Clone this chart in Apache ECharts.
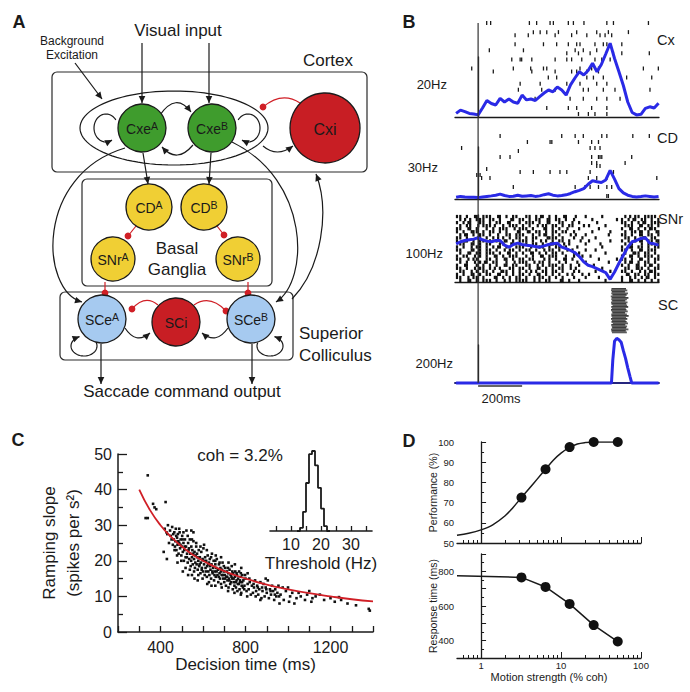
<!DOCTYPE html>
<html>
<head>
<meta charset="utf-8">
<title>Decision network figure</title>
<script src="https://cdn.jsdelivr.net/npm/echarts@6/dist/echarts.min.js"></script>
<style>
html,body{margin:0;padding:0;background:#fff;}
#chart{width:690px;height:692px;}
</style>
</head>
<body>
<div id="chart"></div>
<script>
// ======================= DATA =======================
// ---- Panel A: network diagram (diagram units) ----
const nodeLabels = ['Cxe','Cxe','Cxi','CD','CD','SNr','SNr','SCe','SCi','SCe'];
const nodeSups   = ['A','B','','A','B','A','B','A','','B'];
const nodeX = [142,212,325,149,204,113,238,102,176,251];
const nodeY = [128,128,128,207,207,259,259,319,322,319];
const nodeR = [24,24,35,23,23,22,22,24,24,24];
const nodeKind = ['cx','cx','inh','bg','bg','bg','bg','sc','inh','sc'];
const regionBoxes = [[52,72,367,172],[82,179,272,286],[60,292,293,360]];
const cortexPool = [174,128,94,37];
// excitatory projections: start, (control points), end
const excEdges = [
  [142,43, 142,103],
  [209,43, 209,103],
  [75,63, 102,99],
  [160,115, 176,92, 191,112],
  [193,145, 177,164, 162,147],
  [263,146, 277,158, 293,146],
  [143,153, 148,184],
  [211,153, 209,184],
  [125,328, 136,345, 150,333],
  [228,328, 216,345, 202,333],
  [125,148, 35,175, 40,290, 82,302],
  [232,142, 310,180, 310,280, 276,302],
  [292,299, 322,268, 330,210, 316,174],
  [101,344, 101,384],
  [252,344, 252,384]
];
// inhibitory projections
const inhEdges = [
  [300,103, 282,91, 263,107],
  [136,226, 128,236],
  [217,226, 224,235],
  [105,282, 105,293],
  [248,282, 248,293],
  [158,305, 145,294, 132,309],
  [194,305, 210,294, 226,311]
];
// recurrent self loops: cx, cy, rx, ry, startDeg, endDeg
const selfLoops = [
  [106,128,12,14,-35,-300],
  [248,128,12,14,215,480],
  [84,346,13,10,-20,250],
  [270,346,13,10,200,-70]
];

// ---- Panel B: rasters and PSTHs (time in ms) ----
const stimOnset = 0;
const scaleBarMs = 200;
const psthTimes = [-100,-80,-60,-40,-20,0,20,40,60,80,100,120,140,160,180,200,220,240,260,280,300,320,340,360,380,400,420,440,460,480,500,520,540,560,580,600,620,640,660,680,700,720,740,760,780,800,820];
const cxRate  = [1.2,2.3,1.8,1.2,1.0,0.7,3.0,5.5,4.5,4.0,6.2,5.0,6.0,5.0,4.6,7.3,5.7,6.0,5.5,6.8,8.0,9.0,8.4,10.0,9.0,7.3,10.7,13.0,15.1,14.0,15.5,17.9,15.1,17.5,21.0,24.6,19.5,15.1,10.5,5.0,1.5,0.7,0.9,2.9,3.4,3.0,4.6];
const cdRate  = [1.0,1.5,1.2,1.0,1.0,0.8,1.2,1.5,1.8,2.2,2.8,2.0,1.5,1.6,2.2,1.6,1.8,2.0,1.5,1.8,2.5,3.0,2.2,1.8,2.0,2.4,3.2,4.2,5.0,6.0,8.5,10.5,10.0,9.5,11.0,16.5,11.5,6.0,3.5,2.2,1.5,1.2,1.4,1.8,1.5,1.2,1.5];
const snrRate = [57,60,62,63,64,66,63,61,60,62,62,55,52,56,58,56,55,54,53,52,54,56,57,58,52,50,47,44,38,30,25,23,20,17,14,4,15,28,40,52,60,62,65,66,58,57,55];
const scTimes = [-100,600,606,612,620,630,640,650,660,670,680,690,698,820];
const scRate  = [0,0,0,120,220,235,228,215,170,130,80,35,0,0];
// sparse rasters: [trial, spike times]
const cxRaster = [
  [1,[39,57,233,266,327,342,410,433,481,585,615,774]],
  [4,[251,282,312,365,448,539,592,683]],
  [5,[168,228,350,425,494,554,577,607]],
  [8,[168,297,357,410,448,463,531,569,585,653]],
  [10,[51,206,441,478,539]],
  [11,[403,456,509,615,653,778]],
  [13,[153,191,198,244,350,403,425,471,531,562,600]],
  [16,[-29,160,239,297,312,463,516,547,751,819]],
  [17,[69,244,350,425,448,494,547]],
  [19,[319,357,494,524,569,675,789]],
  [21,[191,282,403,463,539,585]],
  [23,[183,289,350,478,501,569,622,781]],
  [26,[259,418,478,539,585,645]],
  [29,[312,410,448,516,585]],
  [31,[456,501,531,585]]
];
const cdRaster = [
  [1,[100,380,441,478,562,585,703,778]],
  [3,[224,327,335,456,516,547]],
  [5,[-75,509,531,554]],
  [6,[183]],
  [8,[100,145,516,547,554,562,698]],
  [10,[516,539,668]],
  [11,[539,554]],
  [12,[39]],
  [13,[191,251,327,372,403,509,615]],
  [14,[-6,9]],
  [15,[16,54,501,539,585,812]],
  [18,[160,441,486,509,547,585,607]],
  [21,[585,592]]
];
// dense SNr raster: one string per trial, 15 ms bins from -100 ms; '|' early spike, ':' late spike
const snrBinStart = -100, snrBinMs = 15;
const snrRows = [
  "||.|.:|.|| |.:|.|.||. .||.|:|.|. |.:|..|..| ....|..... .|:.||.||| |.",
  ".|:.|.|||. ||.|..:|.| |.|.||.:|. ||.|.:.... .|......:. |.|:|.||.| .|",
  "|.|:|..||. |.||.:|..| .|||.|.:|. .||..|.|.. ..:....... ||.|.|:|.| ||",
  ".|.||.:.|| |:..|.|||. |.|.:.||.| |.|.||..:. |....|.... .|||.:|.|| .|",
  "||.:|.|..| .|.|||.:.| ||.|..:|.| .|.:...|.. ...|...... |.:|.|.|:| |.",
  "|.|.:||.|. ||.|.|..:| .:|.||.|.| |.||.:.... .|....:... .|.||:|.|. :|",
  ".|:|.|.||. |.:..||.|| |..|.|:|.| .|..:.|..| ......|... ||.|.:|.|| .|",
  "||.|..:|.| .|:.|.|.|| .|.||..:|| |.|..:..|. ..|....... .||.|.:|.| |.",
  "|.:|.|.||. |.|.:|.|.| ||.|.:.|.| .||.|..:.. |.....:... |.|.|:|.|| :|",
  ".||.:|.|.| |..||.:|.| .|.||.|.:| |.:.|....| ...:...... .|:|..|.|| .|",
  "|.|.:.||.| .|:|.|..|| |.:..||.|. ||.|..:... ....|..... |.:|.||.|. ||",
  "||..:|.|.| |.|.:.||.| .||.|.:.|| .|.:.|...| ..|....... ||.|.:|.|| |.",
  ".|.:|.||.| ||.|.:|.|. |.:|.|.|.| |.|..:.|.. .....|.... .|.:||.||. |.",
  "|.||.:.|.| .:|.|.|||. .|.|.:|.|| |..|.:..|. :......... |.:|.|.||| .|",
  "||.:.||..| |.|.:|.|.| |.||..:.|. |.:|.|.... ...|....:. ||.|.:|.|. ||",
  ".|.|.:.|:| .||..|.:.| ||.:.||.|. .|.|..:..| ......|... .|:|.|.||. |.",
  "|.:|..|.|. |.|.:|.||. .||.:.|.|| |.|.:..|.. .:........ |.|.:|.|:| .|",
  "||.|.:.||. |:.|..||.| |.|.:|.|.| .||.:.|... ....|..... .||.:||.|. ||",
  ".||.:.|.|| .|.:||.|.| .|:.|.||.| |.|..:.|.. ..|...:... ||.|.:.|:| |.",
  "|.|.:|.|.| |.:|.|.|.| |.|.:|.|.| .|.:.|..|. |......... .:|.||.||. ||",
  "||.:.||.|. .:|.|.|.|| .|.:.||.|. |.|..:...| ...|...... |.:.|.|:|. |.",
  ".|.:|.|.|| |.|.:.|.|| ||.:.|.||. .:|.|..|.. .....|.... |.:|.|.|.| .|"
];
// SC burst raster: burst onset / offset per trial (ms)
const scOn  = [606,604,608,605,610,603,607,605,609,604,606,611,605,608,604,607,610,605,606,609,604,608,606,612,605,607,609,604,606,608];
const scOff = [672,678,668,681,675,670,683,676,669,679,673,677,682,671,674,680,668,676,684,672,678,670,675,681,669,677,673,683,671,676];

// ---- Panel C: ramping slope vs decision time ----
const decisionRampPoints = [
 [330,32],[340,32],[340,44],[365,36],[372,35],[380,34.5],[424,36.5],[420,29],[428,28],[432,27.5],[435,30],[440,25],[445,28.5],[448,27],[452,26],[455,29.5],[458,24.5],[460,27.5],[415,22.5],[430,20.5],
 [462,26],[465,28],[468,24],[470,25.5],[472,29],[475,23],[478,26.5],[480,24.5],[482,27.5],[485,22],[488,25],[490,28],[492,23.5],[495,26],[498,21.5],[500,24],[502,27],[505,22.5],[508,25],[510,20],[512,23],[515,26],[518,21],[520,24],[522,28.5],[525,22],[528,19.5],[530,25],[532,23],[535,20.5],[538,26],[540,22],[542,18.5],[545,24],[548,21],[550,23],[552,19],[555,25.5],[558,20.5],[560,22.5],[545,28.5],[555,28],[530,16],[548,16],[560,15],[505,17],[480,19.5],
 [562,18],[565,21.5],[568,24],[570,19],[572,22],[575,17.5],[578,20],[580,23],[582,18.5],[585,21],[588,16.5],[590,19.5],[592,22.5],[595,18],[598,20.5],[600,17],[602,23.5],[605,19],[608,16],[610,21],[612,18],[615,20],[618,15.5],[620,18.5],[622,21.5],[625,17],[628,19.5],[630,16],[632,20.5],[635,17.5],[638,15],[640,19],[642,22],[645,16.5],[648,18],[650,20],[652,14.5],[655,17],[658,19],[660,15.5],[662,18],[665,20.5],[668,16],[670,17.5],[672,14],[675,19],[678,16.5],[680,15],[682,18],[685,13.5],[688,16],[690,17.5],[692,19.5],[695,15],[698,17],[700,14],[605,24.5],[620,13.5],[640,13],[575,14.5],[660,21.5],[685,21],
 [702,16],[705,18],[708,13],[710,15.5],[712,17],[715,14.5],[718,16.5],[720,12.5],[722,15],[725,17.5],[728,13.5],[730,16],[732,14],[735,18.5],[738,15],[740,12],[742,16.5],[745,14],[748,13],[750,15.5],[752,17],[755,12.5],[758,14.5],[760,16],[762,11.5],[765,15],[768,13.5],[770,17],[772,12],[775,14],[778,15.5],[780,11],[782,13],[785,16],[788,12.5],[790,14.5],[795,13],[800,15],[805,11.5],[810,13.5],[815,12],[820,14],[825,10.5],[830,13],[835,11],[840,12.5],[845,14.5],[850,11.5],[780,18],[750,19],[720,19.5],[810,16.5],
 [855,13],[860,10.5],[865,12],[870,14],[875,9.5],[880,11.5],[885,13.5],[890,10],[895,12.5],[900,11],[905,14.5],[910,9.5],[915,12],[920,10.5],[925,13],[930,11.5],[935,9],[940,12],[945,10],[950,11],[955,13],[960,8],[965,10.5],[975,12.5],[980,9],[990,11.5],[1000,12.5],[1005,8.5],[895,15],[870,9],
 [1010,10],[1020,11],[1030,8],[1040,9.5],[1050,11],[1060,10],[1080,9],[1090,10.5],[1100,11.5],[1115,9.5],[1130,10],[1150,10.5],[1170,9],[1200,9.5],[1220,8.5],[1250,9],[1280,8],[1320,7.5],[1380,6.5],[1385,6],[1240,9.8],[1110,8.5],
 [466,23],[474,27],[484,25.5],[494,24.5],[504,26],[514,24],[524,21],[534,23.5],[544,20],[554,22],[564,19.5],[574,21],[584,19],[594,17.5],[604,20],[614,17],[624,19],[634,18.5],[644,17],[654,16],[664,17],[674,15.5],[684,17],[694,16],[704,15],[714,15.5],[724,14.5],[734,15.5],[744,15],[754,14],[764,13.5],[774,14.5],[784,14],[794,12],
 [488,29],[508,28],[528,27],[548,26],[568,25],[588,24],[618,23],[638,21],[658,20],[678,19.5],[698,18.5],[718,18],[738,17],[758,16.5],[778,16.5],[798,16],[818,15],[838,13.5],[858,12.5],[878,12.5],[898,12],[918,11.5],[938,10.5],[958,10],
 [478,21.5],[498,20],[518,18],[538,17.5],[558,17],[578,16],[598,15],[628,14],[658,13],[688,12.5],[718,11.5],[748,11],[778,10.5],[808,10],[848,10]
];
const fitTime  = [300,350,400,450,500,550,600,700,800,900,1000,1100,1200,1300,1400];
const fitSlope = [40,34.3,30,26.7,24,21.8,20,17.1,15,13.3,12,10.9,10,9.2,8.6];
const histEdges  = [12,13,14,15,16,17,18,19,20,21,22,23];
const histCounts = [0,2,12,30,48,50,41,27,14,3,0,0];

// ---- Panel D: performance and response time vs motion strength ----
const cohLevels = [3.2,6.4,12.8,25.6,51.2];
const perfPct   = [72.5,86.5,97.5,100,100];
const rtMs      = [765,710,612,490,395];
const perfFitCoh = [0.5,0.7,1,1.4,2,2.5,3.2,4,5,6.4,8,10,12.8,16,20,25.6,51.2];
const perfFitPct = [53.8,54.8,56.5,59,63.5,67.5,72.5,77,81.5,86.5,91,94.5,97.3,99,99.7,100,100];
const rtLead = [0.5,775];
const cohMajorTicks = [1,10,100];
const cohMinorTicks = [0.6,0.7,0.8,0.9,2,3,4,5,6,7,8,9,20,30,40,50,60,70,80,90];

// ======================= STYLE / BUILD =======================
const FONT = "'Liberation Sans', Arial, Helvetica, sans-serif";
const INK = '#1a1a1a';
const BLUE = '#2a2ae6';
const RED = '#d01f26';
const kindColor = {cx:'#3f9c2d', inh:'#c81e24', bg:'#f0cf34', sc:'#a6caf0'};
const tMin = -105, tMax = 822;
const lg = Math.log10;

function arrowHead(tx, ty, fx, fy, color) {
  let dx = tx - fx, dy = ty - fy; const len = Math.hypot(dx, dy) || 1; dx /= len; dy /= len;
  const L = 7, H = 3.3; const bx = tx - dx * L, by = ty - dy * L;
  return {type:'polygon', shape:{points:[[tx,ty],[bx - dy*H, by + dx*H],[bx + dy*H, by - dx*H]]}, style:{fill:color}};
}
function edgeEl(e, api, color, inhib) {
  const p = [];
  for (let i = 0; i < e.length; i += 2) p.push(api.coord([e[i], e[i+1]]));
  const a = p[0], b = p[p.length-1], c = p[p.length-2];
  let el;
  if (p.length === 2) el = {type:'line', shape:{x1:a[0],y1:a[1],x2:b[0],y2:b[1]}};
  else if (p.length === 3) el = {type:'bezierCurve', shape:{x1:a[0],y1:a[1],cpx1:p[1][0],cpy1:p[1][1],x2:b[0],y2:b[1]}};
  else el = {type:'bezierCurve', shape:{x1:a[0],y1:a[1],cpx1:p[1][0],cpy1:p[1][1],cpx2:p[2][0],cpy2:p[2][1],x2:b[0],y2:b[1]}};
  el.style = {stroke:color, lineWidth:1.2, fill:'none'};
  const head = inhib ? {type:'circle', shape:{cx:b[0], cy:b[1], r:3.4}, style:{fill:color}} : arrowHead(b[0], b[1], c[0], c[1], color);
  return {type:'group', children:[el, head]};
}

const rasterFlat = rows => { const out = []; rows.forEach(([tr, ts]) => ts.forEach(t => out.push([t, tr]))); return out; };
const snrFlat = (() => { const out = []; snrRows.forEach((s, tr) => { s.replace(/ /g,'').split('').forEach((ch, k) => {
  if (ch === '|') out.push([snrBinStart + k*snrBinMs + 4, tr + 0.5]);
  else if (ch === ':') out.push([snrBinStart + k*snrBinMs + 11, tr + 0.5]); }); }); return out; })();

const G = (left, top, width, height) => ({left, top, width, height, outerBoundsMode:'none', containLabel:false});
const grid = [
  G(0,0,440,420),      // 0 diagram
  G(455,20,204,97),    // 1 Cx raster
  G(455,57,204,60),    // 2 Cx psth
  G(455,133,204,66),   // 3 CD raster
  G(455,147,204,52),   // 4 CD psth
  G(455,215,204,67),   // 5 SNr raster
  G(455,215,204,67),   // 6 SNr psth
  G(455,288,204,45),   // 7 SC raster
  G(455,345,204,38),   // 8 SC psth
  G(455,23,204,360),   // 9 onset line
  G(455,376,204,20),   // 10 scale bar
  G(118,454,255,178),  // 11 C main
  G(270,451,102,80),   // 12 C inset
  G(457,442,184,101),  // 13 D performance
  G(457,554,184,104)   // 14 D RT
];
const hidden = (gi, min, max, inverse) => ({gridIndex:gi, type:'value', min, max, inverse:!!inverse, show:false});
const tAxis = (gi, line, color, w) => ({gridIndex:gi, type:'value', min:tMin, max:tMax, position:'bottom',
  axisLine:{show:line, onZero:false, lineStyle:{color:color||INK, width:w||1.3}}, axisTick:{show:false}, axisLabel:{show:false}, splitLine:{show:false}});
const barAxis = (gi, max) => ({gridIndex:gi, type:'value', min:0, max, position:'left',
  axisLine:{show:true, lineStyle:{color:INK, width:1.3}}, axisTick:{show:false}, axisLabel:{show:false}, splitLine:{show:false}});
const labelStyle = (size, margin) => ({color:INK, fontSize:size, fontFamily:FONT, margin});
const cohAxis = (gi, labels, name) => ({gridIndex:gi, type:'value', position:'bottom', min:lg(0.5), max:lg(100),
  axisLine:{show:true, onZero:false, lineStyle:{color:INK, width:1.3}},
  axisTick:{show:true, inside:true, length:6, customValues:cohMajorTicks.map(lg), lineStyle:{color:INK}},
  axisLabel: labels ? Object.assign(labelStyle(9.5, 2), {customValues:cohMajorTicks.map(lg), formatter:v => String(Math.round(Math.pow(10, v)))}) : {show:false},
  splitLine:{show:false},
  name: name || '', nameLocation:'middle', nameGap:13, nameMoveOverlap:false,
  nameTextStyle:{color:INK, fontSize:11, fontFamily:FONT}});
const cohMinorAxis = gi => ({gridIndex:gi, type:'value', position:'bottom', min:lg(0.5), max:lg(100),
  axisLine:{show:false, onZero:false}, axisTick:{show:true, inside:true, length:3, customValues:cohMinorTicks.map(lg), lineStyle:{color:INK}},
  axisLabel:{show:false}, splitLine:{show:false}});

const xAxis = [
  hidden(0, 0, 440),
  tAxis(1,false), tAxis(2,true), tAxis(3,false), tAxis(4,true), tAxis(5,false), tAxis(6,true),
  tAxis(7,false), tAxis(8,true,'#25257e',2), tAxis(9,false), tAxis(10,false),
  {gridIndex:11, type:'value', position:'bottom', min:200, max:1400, interval:100,
    axisLine:{show:true, onZero:false, lineStyle:{color:INK, width:1.5}},
    axisTick:{show:true, inside:true, length:6, lineStyle:{color:INK, width:1.3}},
    axisLabel:Object.assign(labelStyle(16, 7), {formatter:v => (v % 400 === 0 ? String(v) : '')}),
    splitLine:{show:false},
    name:'Decision time (ms)', nameLocation:'middle', nameGap:24, nameMoveOverlap:false,
    nameTextStyle:{color:INK, fontSize:17, fontFamily:FONT}},
  {gridIndex:12, type:'value', position:'bottom', min:3, max:37,
    axisLine:{show:true, onZero:false, lineStyle:{color:INK, width:1.6}},
    axisTick:{show:true, inside:true, length:5, customValues:[5,10,15,20,25,30,35], lineStyle:{color:INK, width:1.3}},
    axisLabel:Object.assign(labelStyle(16, 5), {customValues:[10,20,30]}),
    splitLine:{show:false},
    name:'Threshold (Hz)', nameLocation:'middle', nameGap:24, nameMoveOverlap:false,
    nameTextStyle:{color:INK, fontSize:17, fontFamily:FONT}},
  cohAxis(13, false), cohMinorAxis(13),
  cohAxis(14, true, 'Motion strength (% coh)'), cohMinorAxis(14)
];
const yAxis = [
  hidden(0, 0, 420, true),
  hidden(1, 0, 32, true), barAxis(2, 20),
  hidden(3, 0, 22, true), barAxis(4, 30),
  hidden(5, 0, 22, true), barAxis(6, 100),
  hidden(7, 0, 30, true), barAxis(8, 200),
  hidden(9, 0, 1), hidden(10, -1, 1),
  {gridIndex:11, type:'value', position:'left', min:0, max:50, interval:10,
    axisLine:{show:true, lineStyle:{color:INK, width:1.5}},
    axisTick:{show:true, inside:true, length:9, lineStyle:{color:INK, width:1.3}},
    minorTick:{show:true, splitNumber:2, length:5, lineStyle:{color:INK, width:1.3}},
    axisLabel:labelStyle(16, 6), splitLine:{show:false},
    name:'Ramping slope\n(spikes per s²)', nameLocation:'middle', nameGap:33, nameMoveOverlap:false,
    nameTextStyle:{color:INK, fontSize:17, fontFamily:FONT, lineHeight:24}},
  hidden(12, 0, 50),
  {gridIndex:13, type:'value', position:'left', min:50, max:100, interval:10,
    axisLine:{show:true, lineStyle:{color:INK, width:1.3}},
    axisTick:{show:true, inside:true, length:5, lineStyle:{color:INK}},
    minorTick:{show:true, splitNumber:2, length:3, lineStyle:{color:INK}},
    axisLabel:labelStyle(9.5, 3), splitLine:{show:false},
    name:'Performance (%)', nameLocation:'middle', nameGap:19, nameMoveOverlap:false,
    nameTextStyle:{color:INK, fontSize:10.5, fontFamily:FONT}},
  {gridIndex:14, type:'value', position:'left', min:300, max:900, interval:100,
    axisLine:{show:true, lineStyle:{color:INK, width:1.3}},
    axisTick:{show:true, inside:true, length:5, lineStyle:{color:INK}},
    minorTick:{show:true, splitNumber:2, length:3, lineStyle:{color:INK}},
    axisLabel:Object.assign(labelStyle(9.5, 3), {formatter:v => ([400,600,800].indexOf(v) >= 0 ? String(v) : '')}),
    splitLine:{show:false},
    name:'Response time (ms)', nameLocation:'middle', nameGap:19, nameMoveOverlap:false,
    nameTextStyle:{color:INK, fontSize:10.5, fontFamily:FONT}}
];

const onAxes = (xi, yi) => ({xAxisIndex:xi, yAxisIndex:yi, silent:true});
const series = [
  // ---- Panel A ----
  Object.assign(onAxes(0,0), {type:'custom', z:1, data:regionBoxes.map(b => [b[0], b[1]]),
    renderItem:(params, api) => { const b = regionBoxes[params.dataIndex]; const p0 = api.coord([b[0], b[1]]), p1 = api.coord([b[2], b[3]]);
      return {type:'rect', shape:{x:p0[0], y:p0[1], width:p1[0]-p0[0], height:p1[1]-p0[1], r:5}, style:{fill:'none', stroke:'#2a2a2a', lineWidth:1.2}}; }}),
  Object.assign(onAxes(0,0), {type:'custom', z:2, data:[[cortexPool[0], cortexPool[1]]],
    renderItem:(params, api) => { const [cx, cy, rx, ry] = cortexPool; const pts = [];
      for (let k = 0; k < 96; k++) { const a = k / 96 * 2 * Math.PI; pts.push(api.coord([cx + rx*Math.cos(a), cy + ry*Math.sin(a)])); }
      return {type:'polygon', shape:{points:pts}, style:{fill:'none', stroke:INK, lineWidth:1.2}}; }}),
  Object.assign(onAxes(0,0), {type:'custom', z:3, data:excEdges.map(e => [e[0], e[1]]),
    renderItem:(params, api) => edgeEl(excEdges[params.dataIndex], api, INK, false)}),
  Object.assign(onAxes(0,0), {type:'custom', z:3, data:inhEdges.map(e => [e[0], e[1]]),
    renderItem:(params, api) => edgeEl(inhEdges[params.dataIndex], api, RED, true)}),
  Object.assign(onAxes(0,0), {type:'custom', z:3, data:selfLoops.map(l => [l[0], l[1]]),
    renderItem:(params, api) => { const [cx, cy, rx, ry, a0, a1] = selfLoops[params.dataIndex]; const pts = [];
      for (let k = 0; k <= 40; k++) { const a = (a0 + (a1 - a0) * k / 40) * Math.PI / 180; pts.push(api.coord([cx + rx*Math.cos(a), cy + ry*Math.sin(a)])); }
      const tip = pts[pts.length-1], prev = pts[pts.length-3];
      return {type:'group', children:[{type:'polyline', shape:{points:pts}, style:{fill:'none', stroke:INK, lineWidth:1.2}}, arrowHead(tip[0], tip[1], prev[0], prev[1], INK)]}; }}),
  Object.assign(onAxes(0,0), {type:'custom', z:5, data:nodeX.map((x, i) => [x, nodeY[i]]),
    renderItem:(params, api) => { const i = params.dataIndex; const c = api.coord([nodeX[i], nodeY[i]]); const r = api.size([nodeR[i], 0])[0];
      const big = nodeR[i] > 30; const lbl = nodeSups[i] ? `{m|${nodeLabels[i]}}{s|${nodeSups[i]}}` : `{m|${nodeLabels[i]}}`;
      return {type:'group', children:[
        {type:'circle', shape:{cx:c[0], cy:c[1], r}, style:{fill:kindColor[nodeKind[i]], stroke:'#1b1b1b', lineWidth:1.3}},
        {type:'text', x:c[0], y:c[1] + 1, style:{text:lbl, align:'center', verticalAlign:'middle', fill:INK,
          rich:{m:{fontSize: big ? 16 : 14, fontFamily:FONT, fill:INK, color:INK, lineHeight:17},
                s:{fontSize:10.5, fontFamily:FONT, fill:INK, color:INK, verticalAlign:'top', lineHeight:11}}}}
      ]}; }}),
  // ---- Panel B ----
  Object.assign(onAxes(1,1), {type:'scatter', data:rasterFlat(cxRaster), symbol:'rect', symbolSize:[1.3,4], itemStyle:{color:INK, opacity:1}}),
  Object.assign(onAxes(2,2), {type:'line', data:psthTimes.map((t, i) => [t, cxRate[i]]), showSymbol:false, symbol:'none', clip:false, lineStyle:{color:BLUE, width:3}}),
  Object.assign(onAxes(3,3), {type:'scatter', data:rasterFlat(cdRaster), symbol:'rect', symbolSize:[1.3,4], itemStyle:{color:INK, opacity:1}}),
  Object.assign(onAxes(4,4), {type:'line', data:psthTimes.map((t, i) => [t, cdRate[i]]), showSymbol:false, symbol:'none', clip:false, lineStyle:{color:BLUE, width:3}}),
  Object.assign(onAxes(5,5), {type:'scatter', data:snrFlat, symbol:'rect', symbolSize:[2.2,3.3], itemStyle:{color:'#111', opacity:1}}),
  Object.assign(onAxes(6,6), {type:'line', z:3, data:psthTimes.map((t, i) => [t, snrRate[i]]), showSymbol:false, symbol:'none', clip:false, lineStyle:{color:BLUE, width:3}}),
  Object.assign(onAxes(7,7), {type:'custom', data:scOn.map((t, i) => [t, i]),
    renderItem:(params, api) => { const i = params.dataIndex; const p0 = api.coord([scOn[i], i]), p1 = api.coord([scOff[i], i + 1]);
      return {type:'rect', shape:{x:p0[0], y:p0[1], width:p1[0]-p0[0], height:p1[1]-p0[1] + 0.3}, style:{fill: i % 2 ? '#5c5c5c' : '#3e3e3e'}}; }}),
  Object.assign(onAxes(8,8), {type:'line', data:scTimes.map((t, i) => [t, scRate[i]]), showSymbol:false, symbol:'none', clip:false, lineStyle:{color:BLUE, width:3}}),
  Object.assign(onAxes(9,9), {type:'line', z:4, data:[[stimOnset,0],[stimOnset,1]], showSymbol:false, symbol:'none', lineStyle:{color:'#333', width:1.2}}),
  Object.assign(onAxes(10,10), {type:'line', data:[[stimOnset,0],[stimOnset + scaleBarMs,0]], showSymbol:false, symbol:'none', lineStyle:{color:'#333', width:1.4}}),
  // ---- Panel C ----
  Object.assign(onAxes(11,11), {type:'scatter', data:decisionRampPoints, symbol:'rect', symbolSize:2.6, itemStyle:{color:'#111', opacity:1}}),
  Object.assign(onAxes(11,11), {type:'line', z:4, data:fitTime.map((t, i) => [t, fitSlope[i]]), smooth:true, showSymbol:false, symbol:'none', lineStyle:{color:RED, width:1.8}}),
  Object.assign(onAxes(12,12), {type:'line', data:histEdges.map((x, i) => [x, histCounts[i]]), step:'end', showSymbol:false, symbol:'none', lineStyle:{color:INK, width:1.8}}),
  // ---- Panel D ----
  Object.assign(onAxes(13,13), {type:'line', data:perfFitCoh.map((c, i) => [lg(c), perfFitPct[i]]), smooth:0.35, showSymbol:false, symbol:'none', lineStyle:{color:INK, width:1.5}}),
  Object.assign(onAxes(13,13), {type:'scatter', z:4, data:cohLevels.map((c, i) => [lg(c), perfPct[i]]), symbol:'circle', symbolSize:10, itemStyle:{color:'#111', opacity:1}}),
  Object.assign(onAxes(15,14), {type:'line', data:[[lg(rtLead[0]), rtLead[1]]].concat(cohLevels.map((c, i) => [lg(c), rtMs[i]])),
    showSymbol:true, symbol:(v, p) => (p.dataIndex === 0 ? 'none' : 'circle'), symbolSize:10, itemStyle:{color:'#111', opacity:1}, lineStyle:{color:INK, width:1.5}})
];

const T = (s, x, y, size, align, weight) => ({type:'text', x, y, silent:true,
  style:{text:s, font:`${weight || 'normal'} ${size}px ${FONT}`, fill:INK, align:align || 'center', verticalAlign:'middle', textAlign:align || 'center', textVerticalAlign:'middle'}});
const graphic = [
  T('A', 19, 22, 18, 'center', 'bold'), T('B', 409, 22, 18, 'center', 'bold'),
  T('C', 18, 440, 18, 'center', 'bold'), T('D', 409, 441, 18, 'center', 'bold'),
  T('Visual input', 178, 30, 17), T('Background', 72, 41, 12), T('Excitation', 72, 55, 12),
  T('Cortex', 328, 60, 17), T('Basal', 177, 248, 17), T('Ganglia', 177, 269, 17),
  T('Superior', 299, 333, 17, 'left'), T('Colliculus', 299, 355, 17, 'left'),
  T('Saccade command output', 182, 391, 17),
  T('Cx', 657, 40, 14.5, 'left'), T('CD', 657, 138, 14.5, 'left'), T('SNr', 658, 219, 14.5, 'left'), T('SC', 658, 305, 14.5, 'left'),
  T('20Hz', 447, 84, 13, 'right'), T('30Hz', 438, 167, 13, 'right'), T('100Hz', 443, 253, 13, 'right'), T('200Hz', 453, 363, 13, 'right'),
  T('200ms', 501, 398, 13),
  T('coh = 3.2%', 240, 455, 17)
];

const chart = echarts.init(document.getElementById('chart'), null, {renderer:'svg', width:690, height:692});
chart.setOption({animation:false, backgroundColor:'#fff', textStyle:{fontFamily:FONT}, grid, xAxis, yAxis, series, graphic});
</script>
</body>
</html>
